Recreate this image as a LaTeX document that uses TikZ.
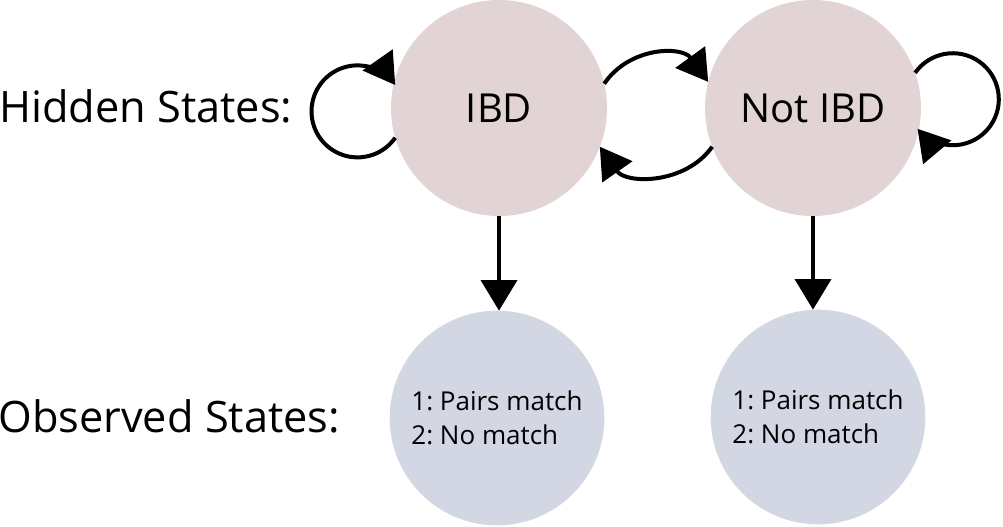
\documentclass[tikz,border=0pt]{standalone}
\usepackage{fontspec}
\setmainfont{Open Sans}
\frenchspacing
\usetikzlibrary{arrows.meta}
\definecolor{hid}{RGB}{226,211,213}
\definecolor{obs}{RGB}{211,215,227}
\begin{document}
\begin{tikzpicture}[x=0.75pt,y=-0.75pt,
  hidstate/.style={circle,fill=hid,minimum size=162pt,inner sep=0pt,outer sep=0pt,font=\fontsize{30}{36}\selectfont},
  obsstate/.style={circle,fill=obs,minimum size=161pt,inner sep=0pt,outer sep=0pt,font=\fontsize{19.5}{25.5}\selectfont,align=left},
  lbl/.style={font=\fontsize{32.5}{39}\selectfont,inner sep=0pt,anchor=base west},
  conn/.style={line width=3pt,-{Triangle[length=23pt,width=27pt]}}]
\useasboundingbox (0,0) rectangle (1003,526);

\node[hidstate] (ibd) at (499,108) {IBD};
\node[hidstate] (notibd) at (813,108) {Not IBD};
\node[obsstate] (obs1) at (497,418) {1: Pairs match\\2: No match};
\node[obsstate] (obs2) at (818,417) {1: Pairs match\\2: No match};

\node[lbl] (hl) at (-1,122.5) {Hidden States:};
\node[lbl] (ol) at (-2,432) {Observed States:};

% self loops
\draw[conn] (ibd.196) arc[start angle=35,end angle=325,radius=46];
\draw[conn] (notibd.19.5) arc[start angle=215,end angle=500,radius=46];

% transitions
\draw[conn] (ibd.13.3) to[bend left=55,looseness=1.1] (notibd.166.7);
\draw[conn] (notibd.201) to[bend left=55,looseness=1.05] (ibd.339.4);

% emissions
\draw[conn] (ibd.south) -- (ibd.south |- obs1.north);
\draw[conn] (notibd.south) -- (notibd.south |- obs2.north);
\end{tikzpicture}
\end{document}
